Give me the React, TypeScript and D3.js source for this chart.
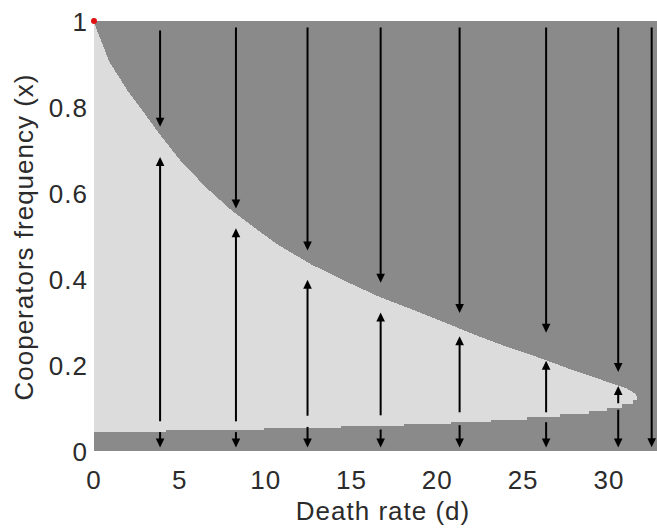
import React from "react";
import * as d3 from "d3";

// Upper boundary (unstable interior equilibrium)
const upperD = [0, 0.25, 0.9, 2.0, 3.0, 3.8, 5.0, 6.5, 8.0, 9.5, 10.7, 12.7, 14.7, 16.6, 18.6, 20.3, 22.2, 24.0, 26.0, 27.9, 29.9, 31.0, 31.5, 31.65];
const upperX = [1.0, 0.97, 0.905, 0.835, 0.782, 0.738, 0.677, 0.614, 0.56, 0.515, 0.48, 0.433, 0.394, 0.359, 0.328, 0.301, 0.27, 0.243, 0.216, 0.188, 0.161, 0.146, 0.134, 0.127];

// Lower boundary (staircase)
const lowerD = [0, 4.2, 9.9, 14.4, 18.06, 20.8, 23.1, 25.25, 27.15, 28.85, 29.9, 30.75, 31.4, 31.65, 32.8];
const lowerX = [0.045, 0.05, 0.054, 0.058, 0.062, 0.067, 0.073, 0.079, 0.086, 0.094, 0.101, 0.109, 0.118, 0.13, 0.13];

// Arrow columns
const arrowD = [3.85, 8.27, 12.44, 16.7, 21.3, 26.34, 30.54, 32.49];
const downStart = [0.978, 0.985, 0.985, 0.985, 0.985, 0.985, 0.985, 0.985];
const downTip = [0.754, 0.564, 0.466, 0.391, 0.321, 0.275, 0.184, 0.009];
const upBase = [0.069, 0.069, 0.082, 0.083, 0.09, 0.09, 0.111];
const upTip = [0.684, 0.518, 0.398, 0.322, 0.267, 0.21, 0.151];
const lowStart = [0.044, 0.044, 0.056, 0.05, 0.06, 0.067, 0.096];
const lowTip = [0.008, 0.008, 0.008, 0.008, 0.008, 0.008, 0.008];

const xTicks = [0, 5, 10, 15, 20, 25, 30];
const yTicks = [0, 0.2, 0.4, 0.6, 0.8, 1];

const W = 657;
const H = 532;
const DARK = "#8a8a8a";
const LIGHT = "#dcdcdc";
const TEXT = "#2b2b2b";
const FONT = "'Liberation Sans', Arial, sans-serif";

export default function App() {
  const x = d3.scaleLinear().domain([0, 32.8]).range([94, 657]);
  const y = d3.scaleLinear().domain([0, 1]).range([451, 21]);

  const upperPts = upperD.map((d, i) => [d, upperX[i]] as [number, number]);
  const lowerPts = lowerD.map((d, i) => [d, lowerX[i]] as [number, number]);

  const upperArea = d3
    .area<[number, number]>()
    .x((p) => x(p[0]))
    .y0(() => y(0))
    .y1((p) => y(p[1]))
    .curve(d3.curveLinear)(upperPts) as string;

  const lowerArea = d3
    .area<[number, number]>()
    .x((p) => x(p[0]))
    .y0(() => y(0))
    .y1((p) => y(p[1]))
    .curve(d3.curveStepAfter)(lowerPts) as string;

  const head = (cx: number, tipY: number, dir: number) => {
    const len = 9;
    const half = 4.3;
    return `M${cx},${tipY} L${cx - half},${tipY - dir * len} L${cx + half},${tipY - dir * len} Z`;
  };

  const arrow = (d: number, from: number, to: number, key: string) => {
    const cx = x(d);
    const y0 = y(from);
    const y1 = y(to);
    const dir = y1 > y0 ? 1 : -1;
    return (
      <g key={key}>
        <line x1={cx} x2={cx} y1={y0} y2={y1 - dir * 6} stroke="#000" strokeWidth={2} />
        <path d={head(cx, y1, dir)} fill="#000" />
      </g>
    );
  };

  return (
    <svg
      width={W}
      height={H}
      style={{ position: "absolute", left: 0, top: 0, background: "#fff" }}
    >
      <rect x={x(0)} y={y(1)} width={x(32.8) - x(0)} height={y(0) - y(1)} fill={DARK} shapeRendering="crispEdges" />
      <path d={upperArea} fill={LIGHT} shapeRendering="crispEdges" />
      <path d={lowerArea} fill={DARK} shapeRendering="crispEdges" />

      {arrowD.map((d, i) => arrow(d, downStart[i], downTip[i], "dn" + i))}
      {upTip.map((t, i) => arrow(arrowD[i], upBase[i], t, "up" + i))}
      {lowStart.map((s, i) => arrow(arrowD[i], s, lowTip[i], "lo" + i))}

      <circle cx={x(0)} cy={y(1)} r={3} fill="#e01010" />

      {xTicks.map((t) => (
        <text
          key={"xt" + t}
          x={x(t)}
          y={489}
          textAnchor="middle"
          fontFamily={FONT}
          fontSize={26}
          letterSpacing={1}
          fill={TEXT}
        >
          {t}
        </text>
      ))}
      {yTicks.map((t) => (
        <text
          key={"yt" + t}
          x={88}
          y={y(t) + 10}
          textAnchor="end"
          fontFamily={FONT}
          fontSize={26}
          letterSpacing={1}
          fill={TEXT}
        >
          {t}
        </text>
      ))}
      <text
        x={383}
        y={520}
        textAnchor="middle"
        fontFamily={FONT}
        fontSize={26}
        letterSpacing={1}
        fill={TEXT}
      >
        Death rate (d)
      </text>
      <text
        transform={`translate(33, 237) rotate(-90)`}
        textAnchor="middle"
        fontFamily={FONT}
        fontSize={26}
        letterSpacing={1}
        fill={TEXT}
      >
        Cooperators frequency (x)
      </text>
    </svg>
  );
}
